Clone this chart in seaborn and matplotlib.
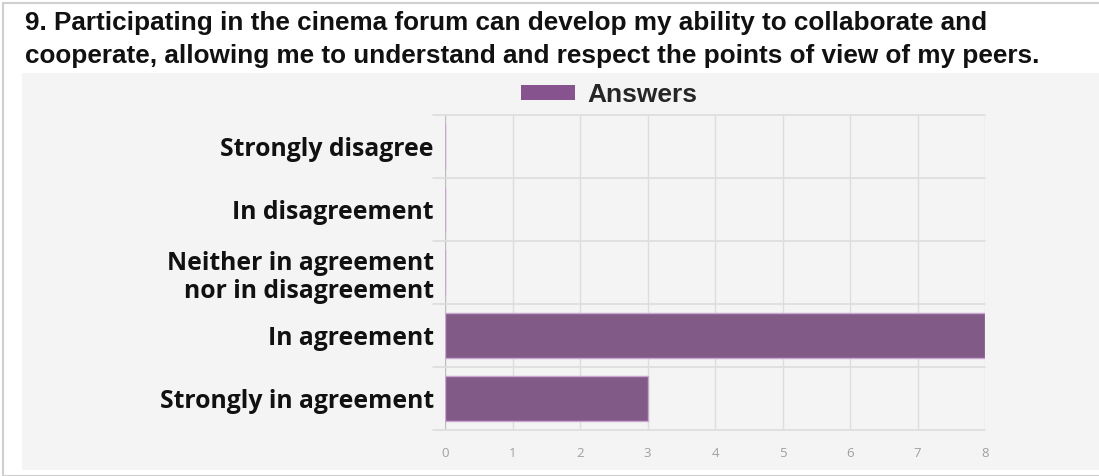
import matplotlib
matplotlib.use("Agg")
import matplotlib.pyplot as plt
import matplotlib.patches as mpatches
import pandas as pd
import seaborn as sns

## chart data
categories = ["Strongly disagree", "In disagreement",
              "Neither in agreement\nnor in disagreement",
              "In agreement", "Strongly in agreement"]
answers = [0, 0, 0, 8, 3]
x_ticks = [0, 1, 2, 3, 4, 5, 6, 7, 8]
title = ("9. Participating in the cinema forum can develop my ability to collaborate and\n"
         "cooperate, allowing me to understand and respect the points of view of my peers.")

df = pd.DataFrame({"category": categories, "Answers": answers})

sns.set_theme(style="white")
plt.rcParams["font.family"] = ["Liberation Sans", "DejaVu Sans"]

W, H = 1099, 476
fig = plt.figure(figsize=(W / 100, H / 100), dpi=100)
fig.patch.set_facecolor("white")

## outer border + grey chart panel (behind the axes)
fig.patches.append(mpatches.Rectangle((3 / W, 0), 1.2, 1 - 3 / H, transform=fig.transFigure,
                                      fill=False, edgecolor="#cfcfcf", lw=1.5, zorder=-2))
fig.patches.append(mpatches.Rectangle((22 / W, 6 / H), 1.0, (470 - 73) / H, transform=fig.transFigure,
                                      facecolor="#f4f4f4", edgecolor="none", zorder=-1))

fig.text(25 / W, 1 - 11 / H, title, ha="left", va="top", fontsize=18.8, fontweight="bold",
         color="#111111", linespacing=1.5)

ax = fig.add_axes([445 / W, 1 - 430 / H, 540 / W, 315 / H])
ax.set_facecolor("#f4f4f4")

bar_color = "#87538f"
sns.barplot(data=df, y="category", x="Answers", orient="h", color=bar_color,
            width=0.71, edgecolor="#c9a6cf", linewidth=1.0, ax=ax, zorder=3)

ax.set_xlim(0, 8)
ax.set_ylim(len(categories) - 0.5, -0.5)
ax.set_xticks(x_ticks)
ax.set_xticklabels([str(t) for t in x_ticks], fontsize=9.5, color="#a0a0a0",
                   family=["Open Sans", "DejaVu Sans"])
ax.tick_params(axis="x", length=0, pad=12)
ax.tick_params(axis="y", length=0, pad=8)
for lab in ax.get_yticklabels():
    lab.set_fontsize(17.8)
    lab.set_fontweight("bold")
    lab.set_color("#111111")
    lab.set_family(["Open Sans", "DejaVu Sans"])
    lab.set_linespacing(1.2)
ax.set_xlabel("")
ax.set_ylabel("")
for s in ax.spines.values():
    s.set_visible(False)

## grid lines
for t in x_ticks:
    ax.axvline(t, color="#bdbdbd" if t == 0 else "#dddddd", lw=1.0, zorder=1)
for i in range(len(categories) + 1):
    ax.axhline(i - 0.5, xmin=-0.022, xmax=1, color="#dddddd", lw=1.2, zorder=1, clip_on=False)

## legend
handle = mpatches.Patch(facecolor=bar_color, edgecolor="none", label="Answers")
fig.legend(handles=[handle], loc="center", bbox_to_anchor=(609 / W, 1 - 95 / H), frameon=False,
           prop={"size": 19, "weight": "bold"}, handlelength=2.05, handleheight=0.5,
           handletextpad=0.45)

fig.savefig("out.png", dpi=100)
